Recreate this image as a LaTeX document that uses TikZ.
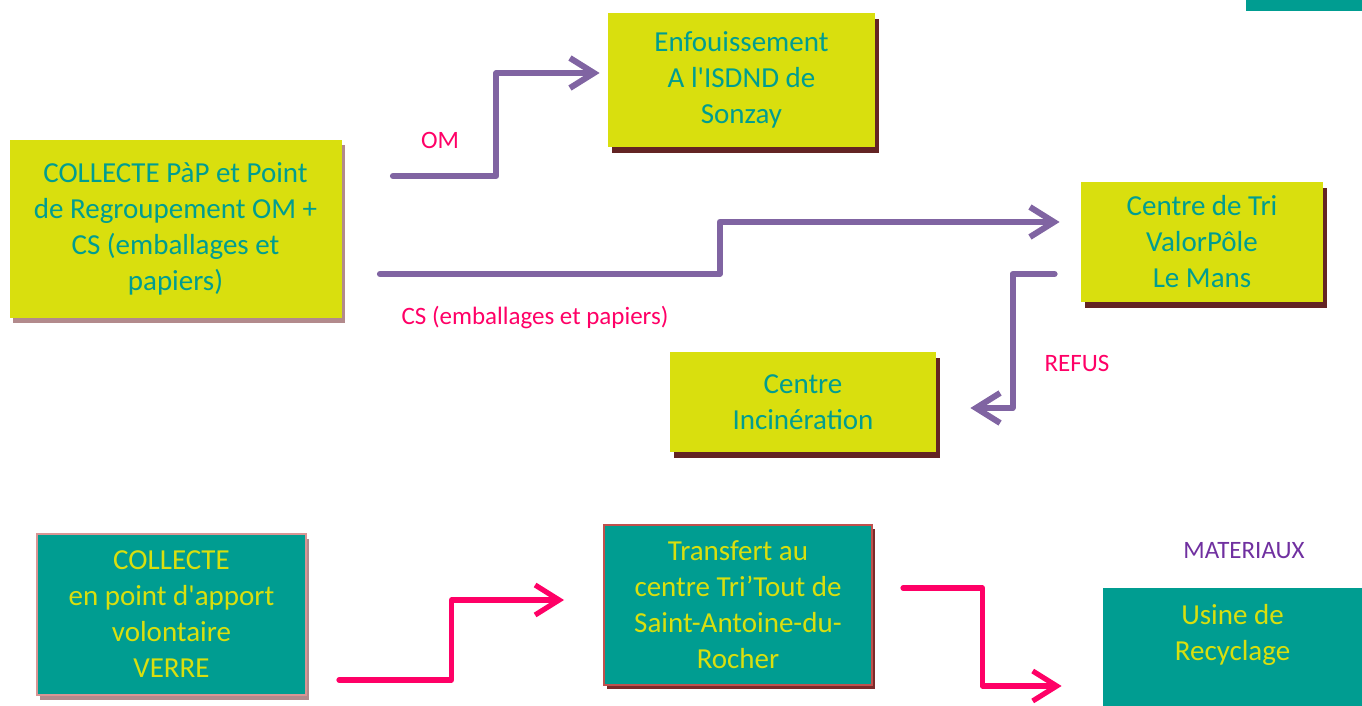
\documentclass[tikz,border=0pt]{standalone}
\usepackage{fontspec}
\setmainfont{Carlito}[Ligatures=TeXReset]
\usetikzlibrary{positioning,arrows.meta,shadows,calc}

\definecolor{limefill}{RGB}{217,223,14}
\definecolor{tealfill}{RGB}{0,157,145}
\definecolor{brownshade}{RGB}{99,36,35}
\definecolor{mauveshade}{RGB}{178,138,140}
\definecolor{pinkedge}{RGB}{217,149,148}
\definecolor{rededge}{RGB}{192,80,77}
\definecolor{redshade}{RGB}{122,42,42}
\definecolor{flowpurple}{RGB}{128,100,162}
\definecolor{flowpink}{RGB}{255,0,102}
\definecolor{matpurple}{RGB}{112,48,160}

\newcommand{\BoxFont}{\fontsize{14.5}{18}\selectfont}
\newcommand{\LabelFont}{\fontsize{12.5}{15}\selectfont}

\tikzset{
  limebox/.style={fill=limefill, text=tealfill, font=\BoxFont, align=center, inner sep=0pt},
  tealbox/.style={fill=tealfill, text=limefill, font=\BoxFont, align=center, inner sep=0pt},
  brownshadow/.style={drop shadow={shadow xshift=2pt, shadow yshift=-3pt, fill=brownshade, opacity=1}},
  mauveshadow/.style={drop shadow={shadow xshift=1.5pt, shadow yshift=-2.5pt, fill=mauveshade, opacity=1}},
  flow/.style={line width=3pt, line cap=round, line join=round, -{Straight Barb[length=12pt,width=15pt]}},
  purpleflow/.style={flow, draw=flowpurple},
  pinkflow/.style={flow, draw=flowpink, line width=2.6pt},
  flowlabel/.style={font=\LabelFont, text=flowpink}
}

\begin{document}
\begin{tikzpicture}[x=0.5pt,y=-0.5pt]
  \useasboundingbox (0,0) rectangle (1362,706);
  \fill[tealfill] (1246,0) rectangle (1362,11);
  % TOP
  \node[limebox, mauveshadow, minimum width=166pt, minimum height=89pt] (pap) at (175.5,229)
    {COLLECTE PàP et Point\\de Regroupement OM +\\CS (emballages et\\papiers)};
  \node[limebox, brownshadow, minimum width=133.5pt, minimum height=67pt] (enf) at (741.5,80)
    {Enfouissement\\A l'ISDND de\\Sonzay};
  \node[limebox, brownshadow, minimum width=121pt, minimum height=60pt] (tri) at (1202,242)
    {Centre de Tri\\ValorPôle\\Le Mans};
  \node[limebox, brownshadow, minimum width=133pt, minimum height=50pt] (inc) at (803,402)
    {Centre\\Incinération};

  \draw[purpleflow] ([shift={(51,-53)}]pap.east) -| ($([shift={(51,-53)}]pap.east)!.5!([shift={(-8,-7)}]enf.west)$) |- ([shift={(-8,-7)}]enf.west);
  \draw[purpleflow] ([shift={(38,45)}]pap.east) -| ($([shift={(38,45)}]pap.east)!.5!([shift={(-21,-20)}]tri.west)$) |- ([shift={(-21,-20)}]tri.west);
  \draw[purpleflow] ([shift={(-26,32)}]tri.west) -| ($([shift={(-26,32)}]tri.west)!.5!([shift={(34,6)}]inc.east)$) |- ([shift={(34,6)}]inc.east);

  \node[flowlabel] (om) at (440,140) {OM};
  \node[flowlabel] (cs) at (535,318) {CS (emballages et papiers)};
  \node[flowlabel] (refus) at (1077,363) {REFUS};

  % BOTTOM
  \node[tealbox, draw=pinkedge, line width=1pt, mauveshadow, minimum width=134.5pt, minimum height=80.5pt] (verre) at (171.5,614)
    {COLLECTE\\en point d'apport\\volontaire\\VERRE};
  \node[tealbox, draw=rededge, line width=1pt, drop shadow={shadow xshift=1.5pt, shadow yshift=-2pt, fill=redshade, opacity=1},
    minimum width=134pt, minimum height=80pt] (trans) at (738,604.5)
    {Transfert au\\centre Tri’Tout de\\Saint-Antoine-du-\\Rocher};
  \node[tealbox, minimum width=129.5pt, minimum height=47pt] (usine) at (1232.5,635)
    {Usine de\\Recyclage};
  \fill[tealfill] (usine.south west) rectangle (1362,720);
  \node[font=\LabelFont, text=matpurple] (mat) at (1244,551) {MATERIAUX};

  \draw[pinkflow] ([shift={(32,66)}]verre.east) -| ($([shift={(32,66)}]verre.east)!.5!([shift={(-39,-4.5)}]trans.west)$) |- ([shift={(-39,-4.5)}]trans.west);
  \draw[pinkflow] ([shift={(30,-16.5)}]trans.east) -| ($([shift={(30,-16.5)}]trans.east)!.5!([shift={(-41,51)}]usine.west)$) |- ([shift={(-41,51)}]usine.west);
\end{tikzpicture}
\end{document}
